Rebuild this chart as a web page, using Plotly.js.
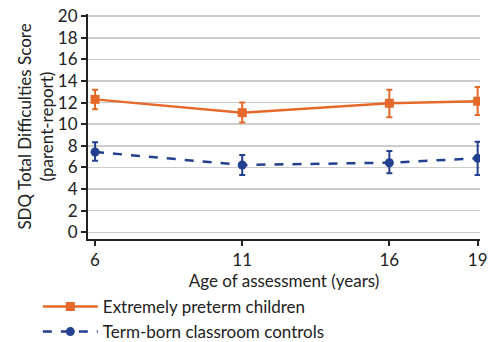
<!DOCTYPE html>
<html>
<head>
<meta charset="utf-8">
<script src="https://cdn.plot.ly/plotly-3.0.1.min.js"></script>
<style>html,body{margin:0;padding:0;background:#fff;}#chart{width:499px;height:342px;}</style>
</head>
<body>
<div id="chart"></div>
<script>
const ages = [6, 11, 16, 19];
const pretermLabel = "Extremely preterm children";
const pretermMean = [12.3, 11.07, 11.94, 12.13];
const pretermUpper = [13.18, 12.0, 13.2, 13.45];
const pretermLower = [11.39, 10.15, 10.65, 10.86];
const termLabel = "Term-born classroom controls";
const termMean = [7.43, 6.23, 6.44, 6.85];
const termUpper = [8.33, 7.16, 7.53, 8.39];
const termLower = [6.63, 5.31, 5.46, 5.31];
const yTicks = [0, 2, 4, 6, 8, 10, 12, 14, 16, 18, 20];

const orange = "#E5692A";
const blue = "#233F8F";

function diff(a, b) { return a.map((v, i) => +(v - b[i]).toFixed(3)); }

const traces = [
  {
    x: ages, y: pretermMean, name: pretermLabel, type: "scatter", mode: "lines+markers",
    line: {color: orange, width: 2.5},
    marker: {symbol: "square", size: 9, color: orange},
    error_y: {type: "data", symmetric: false, array: diff(pretermUpper, pretermMean),
      arrayminus: diff(pretermMean, pretermLower), color: orange, thickness: 2, width: 3}
  },
  {
    x: ages, y: termMean, name: termLabel, type: "scatter", mode: "lines+markers",
    line: {color: blue, width: 2.5, dash: "dash"},
    marker: {symbol: "circle", size: 9, color: blue},
    error_y: {type: "data", symmetric: false, array: diff(termUpper, termMean),
      arrayminus: diff(termMean, termLower), color: blue, thickness: 2, width: 3}
  }
];

const font = "Lato, Open Sans, sans-serif";
const fs = 17;
const layout = {
  width: 499, height: 342,
  margin: {l: 88, r: 19, t: 14, b: 103, autoexpand: false},
  paper_bgcolor: "#fff", plot_bgcolor: "#fff",
  font: {family: font, size: fs, color: "#222"},
  showlegend: true,
  legend: {x: -0.128, y: -0.222, xanchor: "left", yanchor: "top", orientation: "v",
    font: {family: font, size: fs, color: "#222"}, itemwidth: 55, tracegroupgap: 0,
    bgcolor: "rgba(0,0,0,0)"},
  xaxis: {
    range: [5.76, 19.08], tickvals: ages, ticktext: ages.map(String),
    showgrid: false, zeroline: false, showline: true, linecolor: "#222", linewidth: 2,
    ticks: "outside", ticklen: 5, tickwidth: 2, tickcolor: "#222",
    tickfont: {size: fs, color: "#222"},
    title: {text: "Age of assessment (years)", font: {size: fs, color: "#222"}, standoff: 0}
  },
  yaxis: {
    range: [-0.62, 20.2], tickvals: yTicks, ticktext: yTicks.map(String),
    showgrid: true, gridcolor: "#cccccc", gridwidth: 1.5, zeroline: false,
    showline: true, linecolor: "#222", linewidth: 2,
    ticks: "outside", ticklen: 5, tickwidth: 2, tickcolor: "#222",
    tickfont: {size: fs, color: "#222"},
    title: {text: "SDQ Total Difficulties Score<br>(parent-report)", font: {size: fs, color: "#222"}, standoff: 0}
  }
};

Plotly.newPlot("chart", traces, layout, {displayModeBar: false, staticPlot: true});
</script>
</body>
</html>
